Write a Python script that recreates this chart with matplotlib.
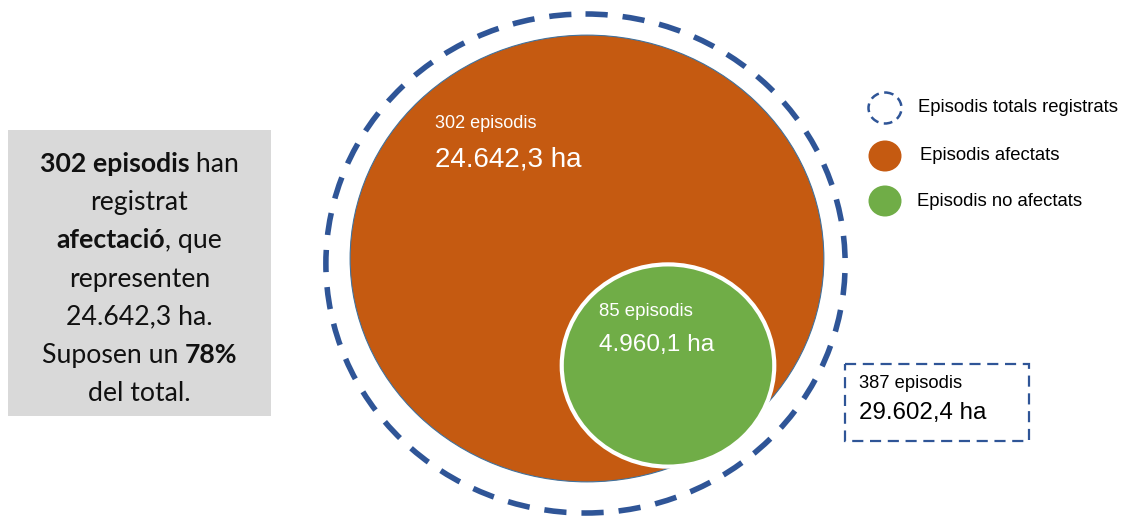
import numpy as np
import matplotlib.pyplot as plt
from matplotlib.patches import Ellipse, Rectangle
from matplotlib.font_manager import FontProperties

# episodis: totals registrats, afectats, no afectats
episodis = [387, 302, 85]
hectarees = [29602.4, 24642.3, 4960.1]
noms = ["Episodis totals registrats", "Episodis afectats", "Episodis no afectats"]

blau = "#2F5597"
taronja = "#C55A11"
verd = "#70AD47"
gris = "#D9D9D9"


def fmt_ha(v):
    # format català: punt per als milers, coma per als decimals
    s = f"{v:,.1f}"
    return s.replace(",", "X").replace(".", ",").replace("X", ".")


fig = plt.figure(figsize=(11.23, 5.17), dpi=100)
ax = fig.add_axes([0, 0, 1, 1])
ax.set_xlim(0, 1123)
ax.set_ylim(517, 0)
ax.axis("off")

# radi proporcional a l'arrel de la superfície (àrea ~ ha)
k = 1.465
sx, sy = 1.03, 0.98
radi = [k * np.sqrt(h) for h in hectarees]
centres = [(585.5, 263.5), (587, 258.5), (668, 365.5)]

tot, afe, noafe = radi
ax.add_patch(Ellipse(centres[0], 2 * tot * sx, 2 * tot * sy + 5, fill=False,
                     ec=blau, lw=4, linestyle=(0, (4, 2.7))))
ax.add_patch(Ellipse(centres[1], 2 * afe * sx, 2 * afe * sy - 4,
                     fc=taronja, ec="#41719C", lw=0.8))
ax.add_patch(Ellipse(centres[2], 2 * noafe * sx, 2 * noafe * sy,
                     fc=verd, ec="white", lw=3))

arial = "Liberation Sans"

# etiquetes dins dels cercles
ax.text(435, 123, f"{episodis[1]} episodis", color="white", fontsize=13,
        family=arial, va="center", ha="left")
ax.text(435, 160, f"{fmt_ha(hectarees[1])} ha", color="white", fontsize=20,
        family=arial, va="center", ha="left")
ax.text(599, 312, f"{episodis[2]} episodis", color="white", fontsize=13.4,
        family=arial, va="center", ha="left")
ax.text(599, 345, f"{fmt_ha(hectarees[2])} ha", color="white", fontsize=17.6,
        family=arial, va="center", ha="left")

# caixa amb el total
ax.add_patch(Rectangle((845, 364), 184, 77, fill=False, ec=blau, lw=1.6,
                       linestyle=(0, (5, 3))))
ax.text(859, 383, f"{episodis[0]} episodis", color="black", fontsize=13.2,
        family=arial, va="center", ha="left")
ax.text(859, 413, f"{fmt_ha(hectarees[0])} ha", color="black", fontsize=17.4,
        family=arial, va="center", ha="left")

# llegenda
ley_y = [108, 156, 201]
ax.add_patch(Ellipse((885, ley_y[0]), 33, 31, fill=False, ec=blau, lw=1.8,
                     linestyle=(0, (3.5, 2.2))))
ax.add_patch(Ellipse((885, ley_y[1]), 33, 31, fc=taronja, ec="none"))
ax.add_patch(Ellipse((885, ley_y[2]), 33, 31, fc=verd, ec="none"))
for nom, y, x0 in zip(noms, ley_y, [918, 920, 917]):
    ax.text(x0, y, nom, fontsize=13.3, family=arial, va="center", ha="left")

# requadre gris amb el resum
ax.add_patch(Rectangle((8, 130), 263, 286, fc=gris, ec="none"))
pct = round(100 * episodis[1] / episodis[0])
linies = [
    [(f"{episodis[1]} episodis", True), (" han", False)],
    [("registrat", False)],
    [("afectació", True), (", que", False)],
    [("representen", False)],
    [(f"{fmt_ha(hectarees[1])} ha.", False)],
    [("Suposen un ", False), (f"{pct}%", True)],
    [("del total.", False)],
]

mida = 19.2
fp_reg = FontProperties(family="Lato", size=mida)
fp_bold = FontProperties(family="Lato", size=mida, weight="bold")
fig.canvas.draw()
rend = fig.canvas.get_renderer()


def amplada(txt, fp):
    w1 = rend.get_text_width_height_descent("|" + txt + "|", fp, ismath=False)[0]
    w0 = rend.get_text_width_height_descent("||", fp, ismath=False)[0]
    return w1 - w0


y0, pas = 162, 38.3
for i, linia in enumerate(linies):
    amples = [amplada(t, fp_bold if b else fp_reg) for t, b in linia]
    x = 139.5 - sum(amples) / 2
    yb = y0 + i * pas + 0.36 * mida / 0.72
    for (t, b), w in zip(linia, amples):
        ax.text(x, yb, t, fontproperties=fp_bold if b else fp_reg,
                color="#111111", ha="left", va="baseline")
        x += w

fig.savefig("out.png", dpi=100)
